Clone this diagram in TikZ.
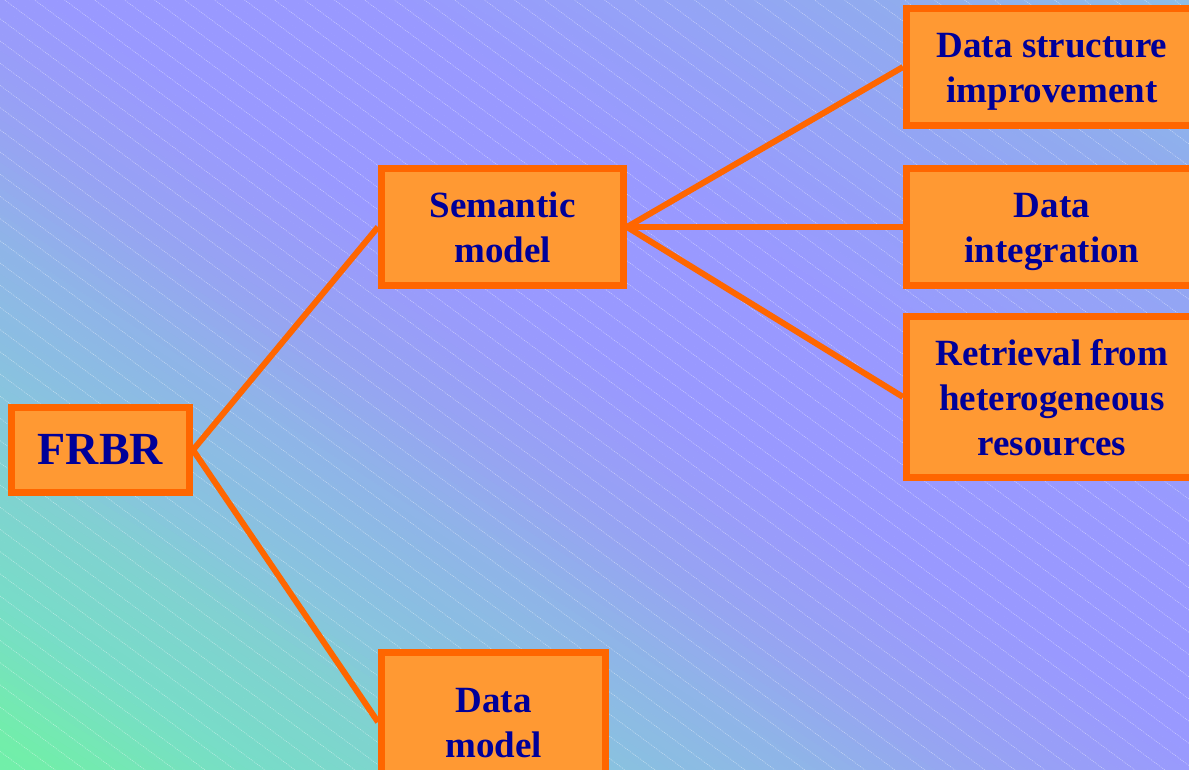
\documentclass[tikz,border=0pt]{standalone}
\usepackage{fontspec}
\setmainfont{Liberation Serif}
\usetikzlibrary{backgrounds}
\definecolor{boxfill}{HTML}{FF9933}
\definecolor{boxline}{HTML}{FF6600}
\definecolor{txt}{HTML}{000099}
\definecolor{bg0}{HTML}{6EF2A6}
\definecolor{bg1}{HTML}{72EEAA}
\definecolor{bg2}{HTML}{78DCC8}
\definecolor{bg3}{HTML}{80D2D0}
\definecolor{bg4}{HTML}{88C4DE}
\definecolor{bg5}{HTML}{8FB4E8}
\definecolor{bg6}{HTML}{96A4F2}
\definecolor{bg7}{HTML}{999CFA}
\definecolor{bgP}{HTML}{9999FF}
\definecolor{bg8}{HTML}{90ACEE}
\definecolor{bg9}{HTML}{8AC6E6}
\newcommand\mystrut{\rule[-9pt]{0pt}{45pt}}
\tikzset{
  box/.style={draw=boxline, fill=boxfill, line width=7pt, text=txt, align=center, inner sep=0pt,
    font=\bfseries\fontsize{37}{45}\selectfont},
  link/.style={draw=boxline, line width=6pt},
  hatch/.style={white, opacity=0.45, line width=0.6pt, dash pattern=on 1pt off 1pt}
}
\begin{document}
\begin{tikzpicture}[x=1pt,y=1pt]
\useasboundingbox (0,0) rectangle (1189,770);
% nodes
\node[box, minimum width=178, minimum height=85, font=\bfseries\fontsize{46}{52}\selectfont] (frbr) at (100.5,320) {FRBR};
\node[box, minimum width=242, minimum height=117] (sem) at (502.5,543) {Semantic\mystrut\\model\mystrut};
\node[box, minimum width=224, minimum height=139] (dm) at (493.5,48) {Data\mystrut\\model\mystrut};
\node[box, minimum width=291, minimum height=117] (dsi) at (1052,703) {Data structure\mystrut\\improvement\mystrut};
\node[box, minimum width=291, minimum height=117] (di) at (1052,543) {Data\mystrut\\integration\mystrut};
\node[box, minimum width=291, minimum height=161] (ret) at (1052,373) {Retrieval from\mystrut\\heterogeneous\mystrut\\resources\mystrut};
\begin{pgfonlayer}{background}
  \begin{scope}
    \clip (0,0) rectangle (1189,770);
    \begin{scope}[shift={(594.5,385)}, rotate=57]
      \foreach \ca/\cb/\ta/\tb in {bg0/bg1/0/7, bg1/bg2/7/15, bg2/bg3/15/22, bg3/bg4/22/27, bg4/bg5/27/36, bg5/bg6/36/42, bg6/bg7/42/48, bg7/bgP/48/52, bgP/bgP/52/64, bgP/bg8/64/84, bg8/bg9/84/100} {
        \pgfmathtruncatemacro{\n}{(\tb-\ta)*2}
        \foreach \i in {1,...,\n} {
          \pgfmathsetmacro{\s}{\ta+(\i-1)*0.5}
          \pgfmathsetmacro{\p}{(\s+0.25-\ta)/(\tb-\ta)*100}
          \pgfmathsetmacro{\xa}{-720+14.4*\s}
          \pgfmathsetmacro{\xb}{\xa+7.7}
          \fill[\cb!\p!\ca] (\xa,-900) rectangle (\xb,900);
        }
      }
    \end{scope}
    \foreach \k in {-41,...,36} {
      \pgfmathsetmacro{\c}{18.8+22.2*\k}
      \draw[hatch] (0,770-\c) -- (1189,770-\c-880);
    }
  \end{scope}
  \draw[link] (frbr.east) -- (sem.west);
  \draw[link] (frbr.east) -- (dm.west);
  \draw[link] (sem.east) -- (dsi.west);
  \draw[link] (sem.east) -- (di.west);
  \draw[link] (sem.east) -- (ret.west);
\end{pgfonlayer}
\end{tikzpicture}
\end{document}
